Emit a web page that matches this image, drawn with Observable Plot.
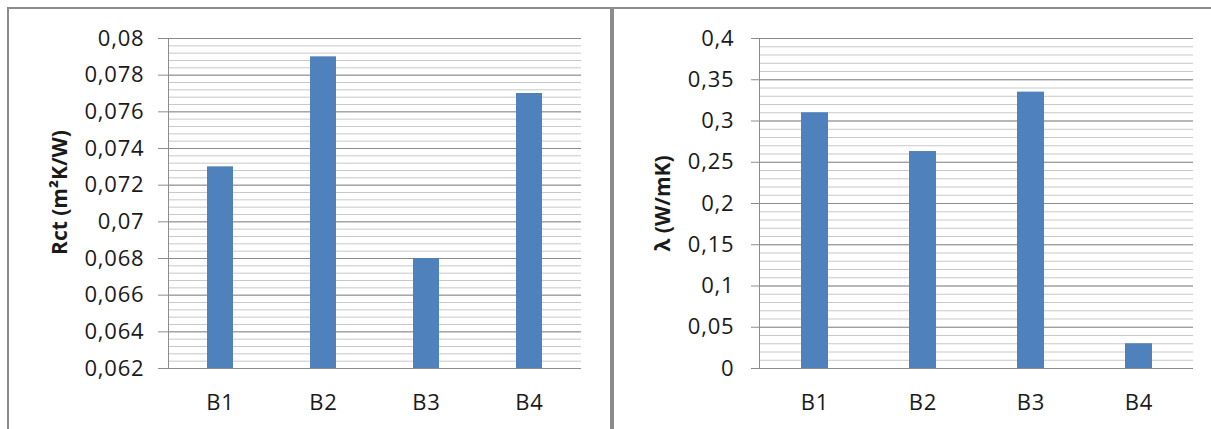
<!DOCTYPE html>
<html><head><meta charset="utf-8">
<script src="https://cdn.jsdelivr.net/npm/d3@7"></script>
<script src="https://cdn.jsdelivr.net/npm/@observablehq/plot@0.6"></script>
<style>
body{margin:0;background:#fff;width:1211px;height:429px;overflow:hidden;position:relative;font-family:"Open Sans",sans-serif}
.panel{position:absolute;top:7px;border-top:2px solid #8c8c8c;height:420px;overflow:hidden}
#p1{left:7px;width:601px;border-left:2px solid #8c8c8c;border-right:2px solid #8c8c8c}
#p2{left:612px;width:599px;border-left:2px solid #8c8c8c}
g[aria-label="y-axis tick label"] text, g[aria-label="x-axis tick label"] text{letter-spacing:0.8px}
svg{display:block}
</style>
</head><body>
<div id="p1" class="panel"></div>
<div id="p2" class="panel"></div>
<script>
const categories = ["B1", "B2", "B3", "B4"];
const rctValues = [0.073, 0.079, 0.068, 0.077];
const lambdaValues = [0.31, 0.263, 0.335, 0.03];
const rctTicks = [0.062, 0.064, 0.066, 0.068, 0.07, 0.072, 0.074, 0.076, 0.078, 0.08];
const lambdaTicks = [0, 0.05, 0.1, 0.15, 0.2, 0.25, 0.3, 0.35, 0.4];

const fmt = d => String(d).replace(".", ",");
const BAR = "#4F81BD";
const MAJOR = "#8c8c8c";
const MINOR = "#c8c8c8";

function chart({values, ticks, minorStep, label, width, marginLeft, marginRight, tickSize, tickPadding, labelDx, labelDy}) {
  const lo = ticks[0], hi = ticks[ticks.length - 1];
  const n = Math.round((hi - lo) / minorStep);
  const minor = d3.range(n + 1).map(i => lo + i * minorStep);
  const data = categories.map((c, i) => ({cat: c, value: values[i]}));
  return Plot.plot({
    width, height: 420,
    marginLeft, marginRight, marginTop: 29, marginBottom: 61,
    style: {fontFamily: "'Open Sans', sans-serif", fontSize: "22px", color: "#1a1a1a", background: "#fff"},
    x: {domain: categories, paddingInner: 0.75, paddingOuter: 0.375, label: null},
    y: {domain: [lo, hi], label: null},
    marks: [
      Plot.ruleY(minor, {stroke: MINOR, strokeWidth: 1}),
      Plot.ruleY(ticks, {stroke: MAJOR, strokeWidth: 1}),
      Plot.barY(data, {x: "cat", y1: lo, y2: "value", fill: BAR}),
      Plot.frame({anchor: "left", stroke: MAJOR}),
      Plot.axisY({ticks, tickFormat: fmt, tickSize, tickPadding, stroke: MAJOR, fill: "#1a1a1a", fontSize: 22, label: null}),
      Plot.axisX({tickSize: 0, tickPadding: 26, fill: "#1a1a1a", fontSize: 22, label: null}),
      Plot.text([label], {frameAnchor: "left", rotate: -90, text: d => d, lineAnchor: "top", textAnchor: "middle",
        dx: labelDx, dy: labelDy, fontSize: 21, fontWeight: "bold", fill: "#1a1a1a"})
    ]
  });
}

document.getElementById("p1").append(chart({
  values: rctValues, ticks: rctTicks, minorStep: 0.0004, label: "Rct (m²K/W)",
  width: 601, marginLeft: 159, marginRight: 29, tickSize: 10, tickPadding: 14, labelDx: -116, labelDy: -11
}));
document.getElementById("p2").append(chart({
  values: lambdaValues, ticks: lambdaTicks, minorStep: 0.01, label: "λ (W/mK)",
  width: 597, marginLeft: 145, marginRight: 18, tickSize: 8, tickPadding: 17, labelDx: -104, labelDy: 0
}));
</script>
</body></html>
